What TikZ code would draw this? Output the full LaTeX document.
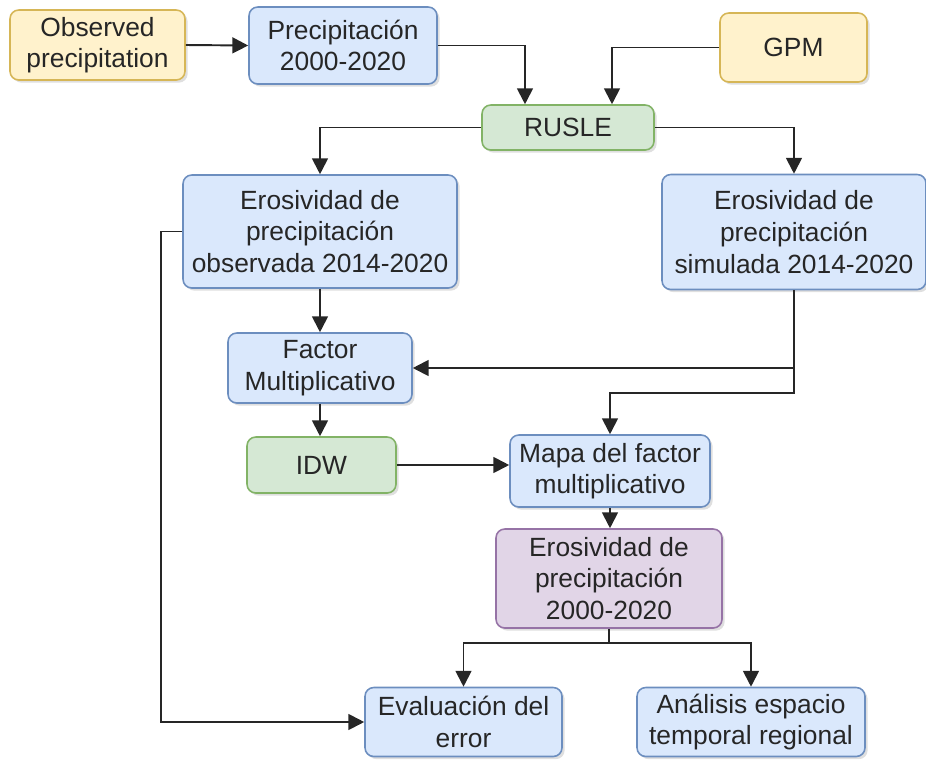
\documentclass[tikz,border=0pt]{standalone}
\usepackage{fontspec}
\setmainfont{Liberation Sans}
\usepackage{xcolor}
\usetikzlibrary{arrows.meta,shadows}

\definecolor{bluefill}{HTML}{DAE8FC}
\definecolor{bluedraw}{HTML}{6C8EBF}
\definecolor{yelfill}{HTML}{FFF2CC}
\definecolor{yeldraw}{HTML}{D6B656}
\definecolor{grnfill}{HTML}{D5E8D4}
\definecolor{grndraw}{HTML}{82B366}
\definecolor{purfill}{HTML}{E1D5E7}
\definecolor{purdraw}{HTML}{9673A6}
\definecolor{txt}{HTML}{262626}

\tikzset{
  box/.style={rounded corners=5pt, line width=0.9pt, align=center, text=txt,
    inner sep=2pt, font=\fontsize{15}{18}\selectfont,
    drop shadow={opacity=0.25, shadow xshift=1.5pt, shadow yshift=-1.5pt}},
  bluebox/.style={box, fill=bluefill, draw=bluedraw},
  yelbox/.style={box, fill=yelfill, draw=yeldraw},
  grnbox/.style={box, fill=grnfill, draw=grndraw},
  purbox/.style={box, fill=purfill, draw=purdraw},
  arr/.style={line width=1.1pt, draw=txt, -{Triangle[length=9pt,width=9pt]}},
}

\begin{document}
\begin{tikzpicture}
  \useasboundingbox (0,0) rectangle (18.52,-15.2);

  % top row
  \node[yelbox, minimum width=3.5cm, minimum height=1.4cm] (obs) at (1.95,-0.9) {Observed\\precipitation};
  \node[bluebox, minimum width=3.76cm, minimum height=1.54cm] (prec) at (6.86,-0.91) {Precipitación\\2000-2020};
  \node[yelbox, minimum width=2.94cm, minimum height=1.38cm] (gpm) at (15.87,-0.95) {GPM};
  \node[grnbox, minimum width=3.44cm, minimum height=0.9cm] (rusle) at (11.36,-2.55) {RUSLE};

  % erosividad
  \node[bluebox, minimum width=5.48cm, minimum height=2.26cm] (erobs) at (6.4,-4.63) {Erosividad de\\precipitación\\observada 2014-2020};
  \node[bluebox, minimum width=5.28cm, minimum height=2.3cm] (ersim) at (15.88,-4.64) {Erosividad de\\precipitación\\simulada 2014-2020};

  % middle
  \node[bluebox, minimum width=3.68cm, minimum height=1.4cm] (factor) at (6.4,-7.36) {Factor\\Multiplicativo};
  \node[grnbox, minimum width=2.98cm, minimum height=1.12cm] (idw) at (6.43,-9.3) {IDW};
  \node[bluebox, minimum width=4.0cm, minimum height=1.44cm] (mapa) at (12.2,-9.42) {Mapa del factor\\multiplicativo};
  \node[purbox, minimum width=4.52cm, minimum height=1.98cm] (ero2k) at (12.18,-11.57) {Erosividad de\\precipitación\\2000-2020};

  % bottom row
  \node[bluebox, minimum width=3.94cm, minimum height=1.38cm] (eval) at (9.27,-14.44) {Evaluación del\\error};
  \node[bluebox, minimum width=4.56cm, minimum height=1.38cm] (anal) at (15.02,-14.44) {Análisis espacio\\temporal regional};

  \coordinate (bend) at (mapa.north |- 0,-7.86);
  \coordinate (fork) at (ero2k.south |- 0,-12.86);

  % connectors
  \draw[arr] (obs.east) -- (prec.west);
  \draw[arr] (prec.east) -| ([xshift=-0.86cm]rusle.north);
  \draw[arr] (gpm.west) -| ([xshift=0.88cm]rusle.north);
  \draw[arr] (rusle.west) -| (erobs.north);
  \draw[arr] (rusle.east) -| (ersim.north);
  \draw[arr] (erobs.south) -- (factor.north);
  \draw[arr] (ersim.south) |- (factor.east);
  \draw[arr] (ersim.south) |- (bend) -- (mapa.north);
  \draw[arr] (factor.south) -- (factor.south |- idw.north);
  \draw[arr] (idw.east) -- (idw.east -| mapa.west);
  \draw[arr] (mapa.south) -- (mapa.south |- ero2k.north);
  \draw[arr] (ero2k.south) -- (fork) -| (eval.north);
  \draw[arr] (fork) -| (anal.north);
  \draw[arr] (erobs.west) -- ++(-0.42,0) |- (eval.west);
\end{tikzpicture}
\end{document}
